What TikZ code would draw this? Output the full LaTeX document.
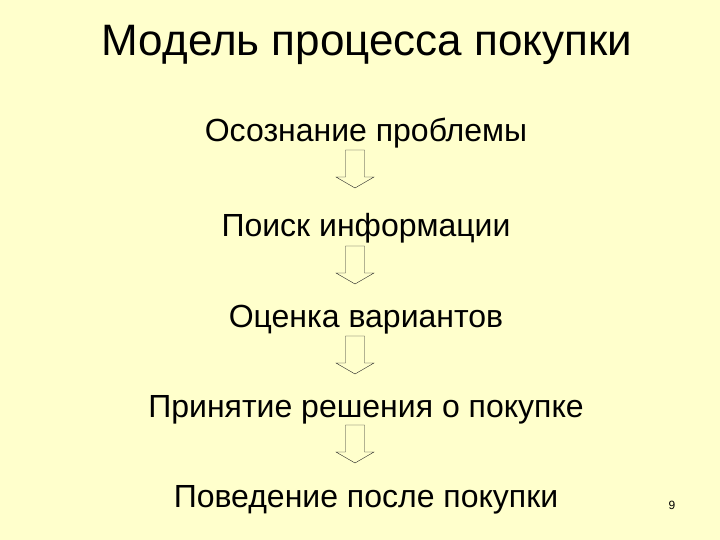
\documentclass[tikz,border=0pt]{standalone}
\usepackage{fontspec}
\setmainfont{Liberation Sans}
\definecolor{slide}{HTML}{FFFFCC}

\begin{document}
\begin{tikzpicture}[x=1pt, y=-1pt]
      % background
      \fill[slide] (0,0) rectangle (720,540);
      \useasboundingbox (0,0) rectangle (720,540);

      % Title
      \node (title) at (367,45) {\fontsize{44}{48}\selectfont Модель процесса покупки};

      % Steps
      \node (aware) at (366,133) {\fontsize{32}{36}\selectfont Осознание проблемы};
      \node (search) at (366,228) {\fontsize{32}{36}\selectfont Поиск информации};
      \node (eval) at (366,320) {\fontsize{32}{36}\selectfont Оценка вариантов};
      \node (decide) at (366,410) {\fontsize{32}{36}\selectfont Принятие решения о покупке};
      \node (after) at (366,500) {\fontsize{32}{36}\selectfont Поведение после покупки};

      % Block arrows
      \foreach \t in {150,246,336,425}
        \draw[black!85] (345.5,\t) -- (364.5,\t) -- (364.5,\t+27) -- (374,\t+27)
          -- (355,\t+38) -- (336,\t+27) -- (345.5,\t+27) -- cycle;

      % Page number
      \node (page) at (672,505) {\fontsize{12}{14}\selectfont 9};
    \end{tikzpicture}
\end{document}
